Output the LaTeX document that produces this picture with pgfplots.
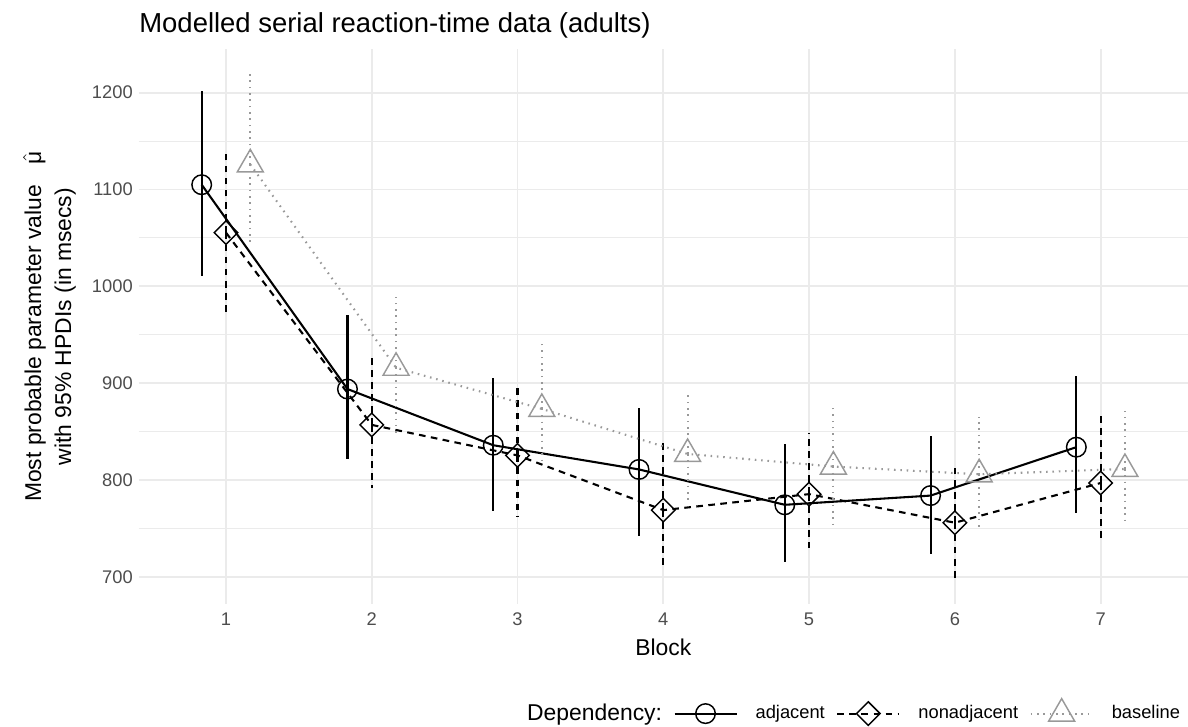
\documentclass[border=0pt]{standalone}
\usepackage{fontspec}
\setmainfont{Liberation Sans}
\usepackage{pgfplots}
\usepackage{pgfplotstable}
\pgfplotsset{compat=1.18}
\definecolor{gridc}{HTML}{EBEBEB}
\definecolor{tickc}{HTML}{4D4D4D}
\definecolor{basec}{HTML}{999999}

% adjacent (dodged -1/6)
\pgfplotstableread{
x y lo hi
0.8333 1105 1011 1202
1.8333 894 822 970
2.8333 836 768 905
3.8333 811 742 874
4.8333 774.5 715 837
5.8333 784 724 845.5
6.8333 834 766.5 907.5
}\tblA
% nonadjacent
\pgfplotstableread{
x y lo hi
1 1055.5 969 1142.5
2 857 791.5 930
3 825.5 762.5 896.5
4 769 710 838
5 785.5 729.5 848.5
6 756 698.5 816
7 797 735 866
}\tblB
% baseline (dodged +1/6)
\pgfplotstableread{
x y lo hi
1.1667 1126 1041 1219
2.1667 916 848.5 989.5
3.1667 873.5 821 944
4.1667 827 779 891.5
5.1667 814 752.5 874.5
6.1667 806 751.5 865.5
7.1667 811.5 757 871.5
}\tblC

\begin{document}
\begin{tikzpicture}
\path[use as bounding box] (0pt,0pt) rectangle (571.15pt,349.52pt);
\begin{axis}[
  at={(66.6pt,59.1pt)}, anchor=south west,
  scale only axis, width=504.6pt, height=266.8pt,
  xmin=0.4, xmax=7.6, ymin=672, ymax=1245,
  xtick={1,2,3,4,5,6,7}, xticklabels={1,2,3,4,5,6,7},
  ytick={700,800,900,1000,1100,1200},
  yticklabels={700,800,900,1000,1100,1200},
  minor ytick={750,850,950,1050,1150},
  xmajorgrids=true, ymajorgrids=true, yminorgrids=true,
  major grid style={draw=gridc, line width=0.9pt},
  minor grid style={draw=gridc, line width=0.5pt},
  axis line style={draw=none},
  major tick length=0pt, minor tick length=0pt,
  tick style={draw=none},
  xticklabel style={font=\fontsize{8.8}{10}\selectfont, text=tickc, anchor=base, inner sep=0pt, yshift=-10.5pt},
  yticklabel style={font=\fontsize{8.8}{10}\selectfont, text=tickc, anchor=east, inner sep=0pt, xshift=-2.6pt},
  xlabel={Block},
  xlabel style={at={(0.5,0)}, anchor=base, yshift=-24.7pt, inner sep=0pt, font=\fontsize{11}{13}\selectfont},
  ylabel={Most probable parameter value\hspace{0.9em}$\hat{\hbox{μ}}$\\with 95\% HPDIs (in msecs)},
  ylabel style={at={(-0.0848,0.5)}, anchor=center, align=center, inner sep=0pt, font=\fontsize{11}{14.4}\selectfont},
  legend columns=-1,
  legend style={at={(1,-0.1945)}, anchor=east, xshift=-3.9pt, draw=none, fill=none,
    inner sep=0pt, outer sep=0pt, column sep=0pt,
    font=\fontsize{8.8}{10}\selectfont,
    nodes={inner sep=0pt},
    /tikz/every odd column/.append style={column sep=8.7pt},
    /tikz/every even column/.append style={column sep=5.5pt}},
  legend image code/.code={\draw[mark repeat=2,mark phase=2,#1] plot coordinates {(0pt,0pt) (14.9pt,0pt) (29.8pt,0pt)};},
]
\addlegendimage{empty legend}
\addlegendentry{\fontsize{11}{13}\selectfont Dependency:\hspace{6.8pt}}

\addplot[black, line width=1pt, mark=o, mark size=4.7pt,
  mark options={solid, line width=0.7pt},
  error bars/.cd, y dir=both, y explicit, error mark=none,
  error bar style={line width=1pt, solid, black}]
  table[x=x, y=y, y error plus expr=\thisrow{hi}-\thisrow{y}, y error minus expr=\thisrow{y}-\thisrow{lo}] {\tblA};
\addlegendentry{adjacent}

\addplot[black, line width=1pt, dash pattern=on 3.2pt off 2.6pt, mark=square, mark size=4.0pt,
  mark options={solid, rotate=45, line width=0.7pt},
  error bars/.cd, y dir=both, y explicit, error mark=none,
  error bar style={line width=1pt, dash pattern=on 3.2pt off 2.6pt, black}]
  table[x=x, y=y, y error plus expr=\thisrow{hi}-\thisrow{y}, y error minus expr=\thisrow{y}-\thisrow{lo}] {\tblB};
\addlegendentry{nonadjacent}

\addplot[basec, line width=1pt, dash pattern=on 0.75pt off 2.3pt, mark=triangle, mark size=7.2pt,
  mark options={solid, line width=0.7pt},
  error bars/.cd, y dir=both, y explicit, error mark=none,
  error bar style={line width=1pt, dash pattern=on 0.75pt off 2.3pt, basec}]
  table[x=x, y=y, y error plus expr=\thisrow{hi}-\thisrow{y}, y error minus expr=\thisrow{y}-\thisrow{lo}] {\tblC};
\addlegendentry{baseline}
\end{axis}
\node[anchor=base west, inner sep=0pt, font=\fontsize{13.2}{15}\selectfont] at (66.8pt,334.1pt) {Modelled serial reaction-time data (adults)};
\end{tikzpicture}
\end{document}
